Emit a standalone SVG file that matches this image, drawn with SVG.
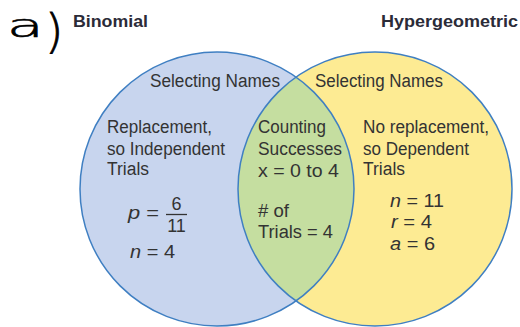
<svg xmlns="http://www.w3.org/2000/svg" width="520" height="327" viewBox="0 0 520 327">
<style>
.t{font-family:"Liberation Sans",Arial,sans-serif;font-size:18px;fill:#333;}
.h{font-family:"Liberation Sans",Arial,sans-serif;font-size:16.5px;font-weight:bold;fill:#2b2b38;}
.i{font-style:italic;}
.ring{fill:none;stroke:#3f7fc2;stroke-width:1.5;}
.hand{font-family:"DejaVu Sans",sans-serif;fill:#000;stroke:#000;stroke-width:0.8;}
</style>
<defs>
<clipPath id="clipL"><circle cx="217" cy="189" r="137"/></clipPath>
</defs>
<rect width="520" height="327" fill="#fff"/>
<g id="annotation">
<text class="hand" x="7" y="37" font-size="40" transform="translate(7 37) scale(1.5 0.8) translate(-7 -37)" font-weight="300">a</text>
<text class="hand" x="45" y="47" font-size="47" font-weight="300">)</text>
</g>
<g id="binomial">
<circle cx="217" cy="189" r="137" fill="#c8d5ee"/>
</g>
<g id="hypergeometric">
<circle cx="375" cy="189" r="137" fill="#fdeb93"/>
</g>
<g id="overlap">
<circle cx="375" cy="189" r="137" fill="#c5dea0" clip-path="url(#clipL)"/>
</g>
<g id="outlines">
<circle class="ring" cx="217" cy="189" r="137"/>
<circle class="ring" cx="375" cy="189" r="137"/>
</g>
<g id="connectors"/>
<g id="titles">
<text class="h" x="73" y="27" textLength="75" lengthAdjust="spacingAndGlyphs">Binomial</text>
<text class="h" x="381" y="27" textLength="137" lengthAdjust="spacingAndGlyphs">Hypergeometric</text>
</g>
<g id="binomial-text">
<text class="t" x="150" y="87" textLength="130" lengthAdjust="spacingAndGlyphs">Selecting Names</text>
<text class="t" x="107" y="133" textLength="105" lengthAdjust="spacingAndGlyphs">Replacement,</text>
<text class="t" x="107" y="155" textLength="118" lengthAdjust="spacingAndGlyphs">so Independent</text>
<text class="t" x="107" y="175" textLength="42" lengthAdjust="spacingAndGlyphs">Trials</text>
<text class="t" x="128" y="219" textLength="31" lengthAdjust="spacingAndGlyphs"><tspan class="i">p</tspan> =</text>
<text class="t" x="176.5" y="210" text-anchor="middle">6</text>
<line x1="166" y1="214.5" x2="187" y2="214.5" stroke="#333" stroke-width="1.3"/>
<text class="t" x="176.5" y="232" text-anchor="middle">11</text>
<text class="t" x="130" y="258" textLength="45" lengthAdjust="spacingAndGlyphs"><tspan class="i">n</tspan> = 4</text>
</g>
<g id="overlap-text">
<text class="t" x="258" y="133" textLength="68" lengthAdjust="spacingAndGlyphs">Counting</text>
<text class="t" x="258" y="155" textLength="84" lengthAdjust="spacingAndGlyphs">Successes</text>
<text class="t" x="258" y="177" textLength="81" lengthAdjust="spacingAndGlyphs">x = 0 to 4</text>
<text class="t" x="258" y="217" textLength="31" lengthAdjust="spacingAndGlyphs"># of</text>
<text class="t" x="258" y="238" textLength="75" lengthAdjust="spacingAndGlyphs">Trials = 4</text>
</g>
<g id="hypergeometric-text">
<text class="t" x="315" y="87" textLength="128" lengthAdjust="spacingAndGlyphs">Selecting Names</text>
<text class="t" x="363" y="133" textLength="126" lengthAdjust="spacingAndGlyphs">No replacement,</text>
<text class="t" x="363" y="155" textLength="106" lengthAdjust="spacingAndGlyphs">so Dependent</text>
<text class="t" x="363" y="175" textLength="42" lengthAdjust="spacingAndGlyphs">Trials</text>
<text class="t" x="390" y="207" textLength="54" lengthAdjust="spacingAndGlyphs"><tspan class="i">n</tspan> = 11</text>
<text class="t" x="391" y="228" textLength="41" lengthAdjust="spacingAndGlyphs"><tspan class="i">r</tspan> = 4</text>
<text class="t" x="390" y="250" textLength="45" lengthAdjust="spacingAndGlyphs"><tspan class="i">a</tspan> = 6</text>
</g>
</svg>
